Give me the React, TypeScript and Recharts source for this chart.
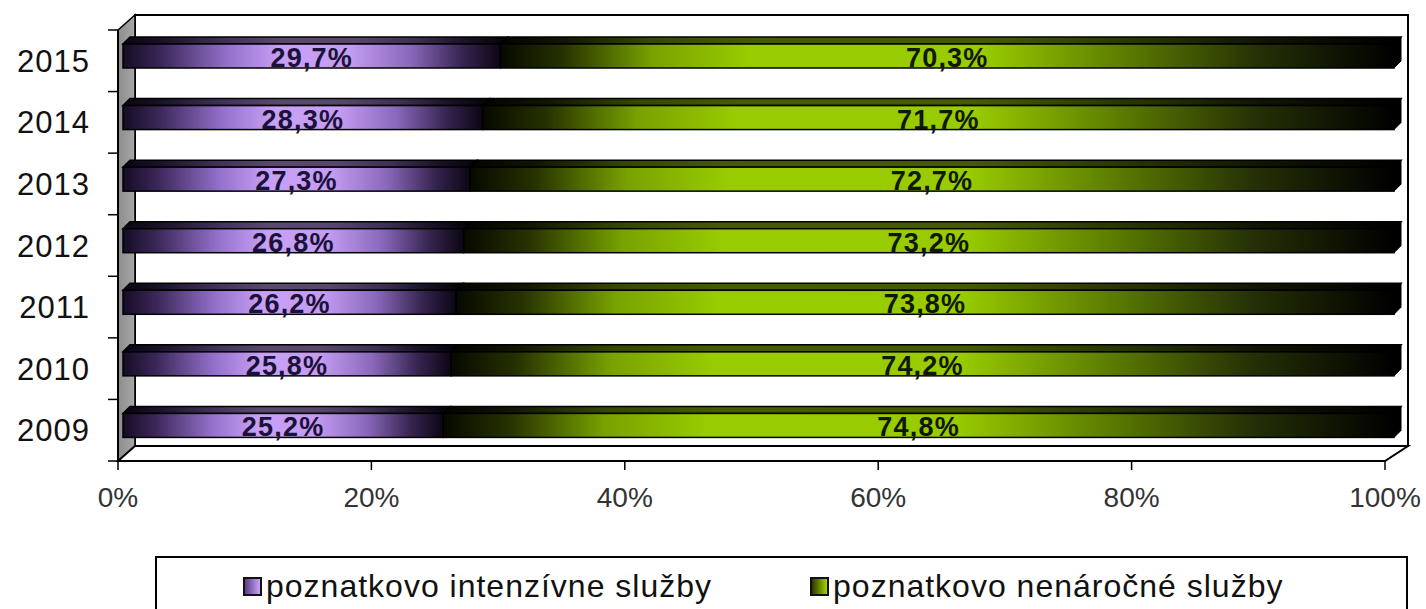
import React from 'react';
import { BarChart, Bar, XAxis, YAxis, LabelList } from 'recharts';

const years = ['2009', '2010', '2011', '2012', '2013', '2014', '2015'];
const intensive = [25.2, 25.8, 26.2, 26.8, 27.3, 28.3, 29.7];
const nonDemanding = [74.8, 74.2, 73.8, 73.2, 72.7, 71.7, 70.3];
const xTicks = [0, 20, 40, 60, 80, 100];
const seriesNames = ['poznatkovo intenzívne služby', 'poznatkovo nenáročné služby'];

const data = years.map((year, i) => ({
  year,
  intensive: intensive[i],
  nonDemanding: nonDemanding[i],
}));

const W = 1426;
const H = 609;
const PLOT = { left: 118, right: 1385, top: 30, bottom: 461 };
// 3D back plane offsets
const BACK_L = 17;
const BACK_R = 23;
const BACK_DY = 15;
// bar front face (mid depth) maps 0..100% to these x coords
const FACE_L = 123;
const FACE_R = 1394;
const BAR_DEPTH = 7;
const BAR_LIFT = 8;
const FONT = '"Liberation Sans", Arial, sans-serif';

const mapX = (x: number) =>
  FACE_L + ((x - PLOT.left) * (FACE_R - FACE_L)) / (PLOT.right - PLOT.left);

const fmt = (v: number) => `${v.toFixed(1).replace('.', ',')}%`;

const makeShape = (grad: string, isLast: boolean) => (props: any) => {
  const { x, y, width, height } = props;
  if (width == null || height == null) return <g />;
  const x0 = mapX(x);
  const x1 = mapX(x + width);
  const top = y - BAR_LIFT;
  const d = BAR_DEPTH;
  const topFace = `${x0},${top + d} ${x0 + d},${top} ${x1 + d},${top} ${x1},${top + d}`;
  return (
    <g>
      <polygon points={topFace} fill={`url(#${grad})`} />
      <polygon points={topFace} fill="#000" fillOpacity={0.55} stroke="#000" strokeWidth={1.5} />
      <rect
        x={x0}
        y={top + d}
        width={x1 - x0}
        height={height - d}
        fill={`url(#${grad})`}
        stroke="#000"
        strokeWidth={1.5}
      />
      {isLast && (
        <polygon
          points={`${x1},${top + d} ${x1 + d},${top} ${x1 + d},${top + height - d} ${x1},${top + height}`}
          fill="#000"
          stroke="#000"
          strokeWidth={1}
        />
      )}
    </g>
  );
};

const makeLabel = (color: string) => (props: any) => {
  const { x, y, width, height, value } = props;
  const cx = (mapX(x) + mapX(x + width)) / 2;
  const base = y - BAR_LIFT + height - 1;
  return (
    <text
      x={cx}
      y={base}
      textAnchor="middle"
      fontFamily={FONT}
      fontWeight="bold"
      fontSize={27}
      letterSpacing={1.2}
      fill={color}
    >
      {fmt(value)}
    </text>
  );
};

function Frame() {
  const band = (PLOT.bottom - PLOT.top) / years.length;
  const bTop = PLOT.top - BACK_DY;
  const bBottom = PLOT.bottom - BACK_DY;
  const bLeft = PLOT.left + BACK_L;
  const bRight = PLOT.right + BACK_R;
  return (
    <svg width={W} height={H} style={{ position: 'absolute', left: 0, top: 0 }}>
      <defs>
        <linearGradient id="gradPurple" x1="0" y1="0" x2="1" y2="0">
          <stop offset="0" stopColor="#160c24" />
          <stop offset="0.1" stopColor="#3a2758" />
          <stop offset="0.28" stopColor="#9571cc" />
          <stop offset="0.42" stopColor="#c8a0f6" />
          <stop offset="0.6" stopColor="#c49cf2" />
          <stop offset="0.76" stopColor="#8a68bc" />
          <stop offset="0.9" stopColor="#35244f" />
          <stop offset="1" stopColor="#0c0614" />
        </linearGradient>
        <linearGradient id="gradGreen" x1="0" y1="0" x2="1" y2="0">
          <stop offset="0" stopColor="#060900" />
          <stop offset="0.07" stopColor="#263200" />
          <stop offset="0.17" stopColor="#78a200" />
          <stop offset="0.28" stopColor="#99cc00" />
          <stop offset="0.54" stopColor="#98cb00" />
          <stop offset="0.69" stopColor="#5f8000" />
          <stop offset="0.85" stopColor="#243006" />
          <stop offset="1" stopColor="#000000" />
        </linearGradient>
        <linearGradient id="gradWall" x1="0" y1="0" x2="1" y2="0">
          <stop offset="0" stopColor="#8c8c8c" />
          <stop offset="1" stopColor="#a8a8a8" />
        </linearGradient>
      </defs>
      <rect
        x={bLeft}
        y={bTop}
        width={bRight - bLeft}
        height={bBottom - bTop}
        fill="#fff"
        stroke="#000"
        strokeWidth={2}
      />
      <polygon
        points={`${PLOT.left},${PLOT.top} ${bLeft},${bTop} ${bLeft},${bBottom} ${PLOT.left},${PLOT.bottom}`}
        fill="url(#gradWall)"
        stroke="#000"
        strokeWidth={1.5}
      />
      <polygon
        points={`${PLOT.left},${PLOT.bottom} ${bLeft},${bBottom} ${bRight},${bBottom} ${PLOT.right},${PLOT.bottom}`}
        fill="#fff"
        stroke="#000"
        strokeWidth={2}
      />
      <line x1={PLOT.left} y1={PLOT.top} x2={PLOT.left} y2={PLOT.bottom} stroke="#000" strokeWidth={2} />
      {Array.from({ length: years.length + 1 }, (_, i) => (
        <line
          key={i}
          x1={PLOT.left - 10}
          x2={PLOT.left}
          y1={PLOT.top + i * band}
          y2={PLOT.top + i * band}
          stroke="#000"
          strokeWidth={1.5}
        />
      ))}
    </svg>
  );
}

function LegendBox() {
  const items = [
    { name: seriesNames[0], bg: 'linear-gradient(90deg, #5a3c88, #c9a3f5)' },
    { name: seriesNames[1], bg: 'linear-gradient(90deg, #2a3600, #a6d400)' },
  ];
  return (
    <div
      style={{
        position: 'absolute',
        left: 155,
        top: 556,
        width: 1253,
        height: 80,
        border: '2px solid #000',
        boxSizing: 'border-box',
        display: 'flex',
        alignItems: 'flex-start',
        paddingLeft: 86,
        paddingTop: 10,
        fontFamily: FONT,
        fontSize: 32,
        letterSpacing: 1,
        color: '#111',
        gap: 98,
        background: '#fff',
      }}
    >
      {items.map((it) => (
        <div key={it.name} style={{ display: 'flex', alignItems: 'center', lineHeight: '36px' }}>
          <span
            style={{
              display: 'inline-block',
              width: 15,
              height: 15,
              border: '2px solid #111',
              background: it.bg,
              marginRight: 4,
            }}
          />
          <span>{it.name}</span>
        </div>
      ))}
    </div>
  );
}

export default function App() {
  return (
    <div style={{ position: 'absolute', left: 0, top: 0, width: W, height: H, background: '#fff' }}>
      <Frame />
      <div style={{ position: 'absolute', left: 0, top: 0 }}>
        <BarChart
          width={W}
          height={H}
          data={data}
          layout="vertical"
          margin={{ top: PLOT.top, right: W - PLOT.right, left: 0, bottom: 98 }}
        >
          <XAxis
            type="number"
            domain={[0, 100]}
            ticks={xTicks}
            tickFormatter={(v: number) => `${v}%`}
            axisLine={false}
            tickSize={9}
            tickMargin={17}
            tickLine={{ stroke: '#000', strokeWidth: 1.5 }}
            tick={{ fontSize: 28, fill: '#333', fontFamily: FONT }}
            height={50}
            interval={0}
          />
          <YAxis
            type="category"
            dataKey="year"
            reversed
            width={PLOT.left}
            axisLine={false}
            tickLine={false}
            tickSize={10}
            tickMargin={18}
            tick={{ fontSize: 31, fill: '#111', fontFamily: FONT, letterSpacing: 1 }}
          />
          <Bar
            dataKey="intensive"
            name={seriesNames[0]}
            stackId="a"
            barSize={31}
            fill="#c6a0f2"
            shape={makeShape('gradPurple', false)}
            isAnimationActive={false}
          >
            <LabelList dataKey="intensive" content={makeLabel('#1a1238')} />
          </Bar>
          <Bar
            dataKey="nonDemanding"
            name={seriesNames[1]}
            stackId="a"
            barSize={31}
            fill="#99cc00"
            shape={makeShape('gradGreen', true)}
            isAnimationActive={false}
          >
            <LabelList dataKey="nonDemanding" content={makeLabel('#101800')} />
          </Bar>
        </BarChart>
      </div>
      <LegendBox />
    </div>
  );
}
